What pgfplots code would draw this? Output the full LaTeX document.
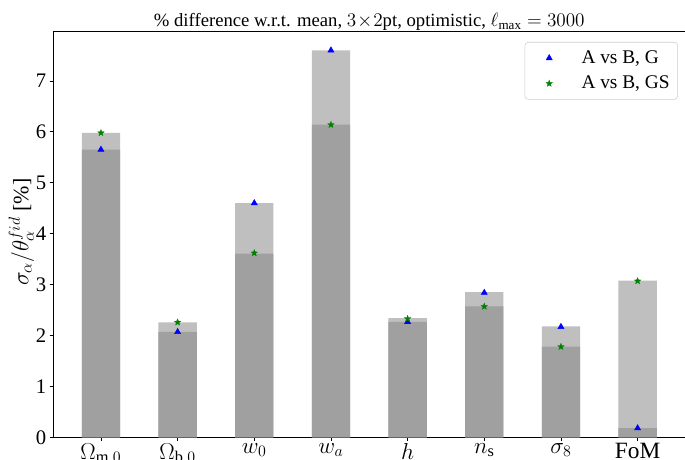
\documentclass[border=0pt]{standalone}
\usepackage{fontspec}
\setmainfont{Liberation Serif}
\usepackage{pgfplots}
\pgfplotsset{compat=1.18}
\usetikzlibrary{plotmarks}
\definecolor{barlight}{RGB}{191,191,191}
\definecolor{bardark}{RGB}{160,160,160}
\definecolor{mplgreen}{RGB}{0,128,0}
\definecolor{mplblue}{RGB}{0,0,255}
\definecolor{legedge}{RGB}{204,204,204}
\pgfdeclareplotmark{fstar}{%
  \pgfpathmoveto{\pgfpointpolar{90}{\pgfplotmarksize}}%
  \pgfpathlineto{\pgfpointpolar{126}{0.42\pgfplotmarksize}}%
  \pgfpathlineto{\pgfpointpolar{162}{\pgfplotmarksize}}%
  \pgfpathlineto{\pgfpointpolar{198}{0.42\pgfplotmarksize}}%
  \pgfpathlineto{\pgfpointpolar{234}{\pgfplotmarksize}}%
  \pgfpathlineto{\pgfpointpolar{270}{0.42\pgfplotmarksize}}%
  \pgfpathlineto{\pgfpointpolar{306}{\pgfplotmarksize}}%
  \pgfpathlineto{\pgfpointpolar{342}{0.42\pgfplotmarksize}}%
  \pgfpathlineto{\pgfpointpolar{18}{\pgfplotmarksize}}%
  \pgfpathlineto{\pgfpointpolar{54}{0.42\pgfplotmarksize}}%
  \pgfpathclose
  \pgfusepathqfillstroke}
\begin{document}
\begin{tikzpicture}
\begin{axis}[
  at={(0,0)}, anchor=south west,
  scale only axis, width=474pt, height=304.5pt,
  xmin=-0.625, xmax=7.625, ymin=0, ymax=7.98,
  xtick={0,1,2,3,4,5,6,7},
  xticklabels={$\Omega_{\mathrm{m},0}$,$\Omega_{\mathrm{b},0}$,$w_0$,$w_a$,$h$,$n_{\mathrm{s}}$,$\sigma_8$,FoM},
  ytick={0,1,2,3,4,5,6,7},
  tick align=outside, xtick pos=bottom, ytick pos=left,
  major tick length=2.6pt,
  tick style={black, line width=0.6pt},
  axis line style={line width=0.6pt},
  /pgf/number format/assume math mode=true,
  yticklabel style={font=\fontsize{15.5}{17}\selectfont, xshift=1pt},
  xticklabel style={font=\fontsize{17.5}{19}\selectfont, yshift=1.5pt},
  title={\% difference w.r.t. mean, $3\!\times\! 2$pt, optimistic, $\ell_{\mathrm{max}}=3000$},
  title style={font=\fontsize{14}{16}\selectfont, at={(0.5,1)}, anchor=base, yshift=-2.5pt},
  ylabel={$\sigma_\alpha/\theta_\alpha^{fid}$ [\%]},
  every axis y label/.style={at={(axis description cs:-0.05,0.505)}, rotate=90, anchor=center, font=\fontsize{16.5}{18}\selectfont},
  legend style={at={(0.988,0.973)}, anchor=north east, draw=legedge, rounded corners=2.5pt,
    font=\fontsize{14.5}{16}\selectfont, row sep=4pt, inner xsep=4pt, inner ysep=4.3pt, cells={anchor=west}},
  legend image code/.code={\path (0pt,0pt) (36pt,0pt); \draw[mark repeat=2,mark phase=2] plot coordinates {(0pt,0pt)(14pt,0pt)(28pt,0pt)};},
]
\addplot[ybar, bar width=0.5, bar shift=0pt, fill=barlight, draw=none, forget plot] coordinates {
  (0,5.98) (1,2.26) (2,4.60) (3,7.60) (4,2.34) (5,2.85) (6,2.18) (7,3.08)};
\addplot[ybar, bar width=0.5, bar shift=0pt, fill=bardark, draw=none, forget plot] coordinates {
  (0,5.65) (1,2.07) (2,3.61) (3,6.14) (4,2.27) (5,2.57) (6,1.78) (7,0.18)};
\addplot[only marks, mark=triangle*, mark size=2.6pt, color=mplblue, mark options={fill=mplblue}] coordinates {
  (0,5.65) (1,2.07) (2,4.60) (3,7.60) (4,2.27) (5,2.84) (6,2.17) (7,0.18)};
\addlegendentry{A vs B, G}
\addplot[only marks, mark=fstar, mark size=2.6pt, color=mplgreen, mark options={fill=mplgreen, line width=0.2pt}] coordinates {
  (0,5.98) (1,2.26) (2,3.62) (3,6.14) (4,2.33) (5,2.57) (6,1.78) (7,3.07)};
\addlegendentry{A vs B, GS}
\end{axis}
\pgfresetboundingbox
\path[use as bounding box] (-39.75pt,-16.5pt) rectangle (473.6pt,327.75pt);
\end{tikzpicture}
\end{document}
